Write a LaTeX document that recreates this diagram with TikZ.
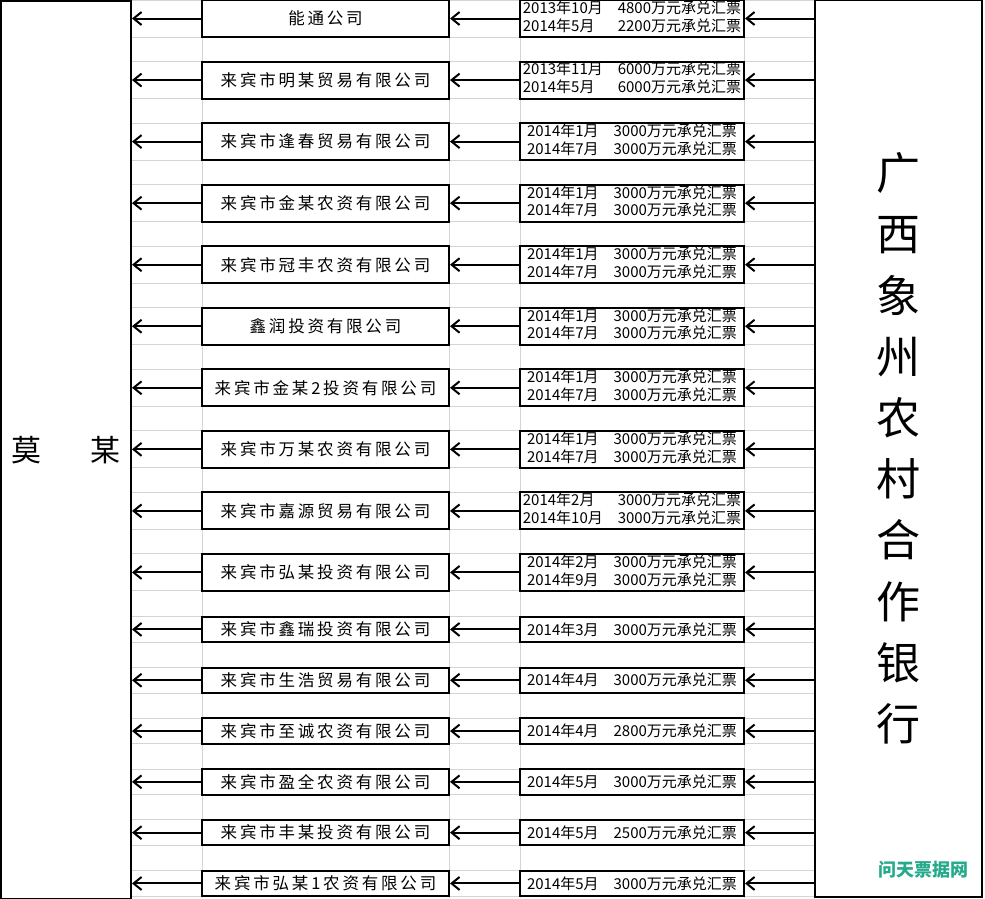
\documentclass[tikz,border=0pt]{standalone}
\usepackage{fontspec}
\newfontfamily\cjk{Noto Sans CJK SC}
\newfontfamily\cjkwide[LetterSpace=17]{Noto Sans CJK SC}
\usetikzlibrary{arrows.meta}
\definecolor{gridgray}{RGB}{212,212,212}
\definecolor{markteal}{RGB}{38,170,140}
\newcommand{\twobill}[4]{\begin{tabular}{@{}l@{\hspace{15pt}}l@{}}#1&#2\\#3&#4\end{tabular}}
\newcommand{\onebill}[2]{#1\hspace{15pt}#2}

\begin{document}
\begin{tikzpicture}[x=1pt,y=-1pt,
  box/.style={draw,fill=white,line width=2pt,inner sep=0pt},
  firm/.style={box,minimum width=247pt,font=\cjkwide\fontsize{16.5}{18}\selectfont},
  bill/.style={box,minimum width=224pt,font=\cjk\fontsize{15}{17}\selectfont},
  tall/.style={minimum height=37pt},
  low/.style={minimum height=25.5pt},
  flow/.style={line width=2pt,-{Straight Barb[length=8pt,width=13pt]}}]
  \useasboundingbox (0,0) rectangle (985,898);
  \fill[white] (0,0) rectangle (985,898);
  \foreach \x in {131,202,449,520,744,815}
    \draw[gridgray,line width=1pt] (\x,0) -- (\x,898);
  \foreach \i in {0,...,9} {
    \draw[gridgray,line width=1pt] (131,61.55*\i) -- (815,61.55*\i);
    \draw[gridgray,line width=1pt] (131,61.55*\i+37) -- (815,61.55*\i+37);
  }
  \foreach \i in {0,...,5} {
    \draw[gridgray,line width=1pt] (131,616.7+50.8*\i) -- (815,616.7+50.8*\i);
    \draw[gridgray,line width=1pt] (131,642.2+50.8*\i) -- (815,642.2+50.8*\i);
  }
  \node[box,minimum width=130pt,minimum height=898pt,font=\cjk\fontsize{30}{36}\selectfont]
    (mo) at (66,450) {莫\hspace{49pt}某};
  \node[box,minimum width=167pt,minimum height=897pt,align=center,
    font=\cjk\fontsize{44}{61.2}\selectfont]
    (bank) at (898.5,448.5) {广\\西\\象\\州\\农\\村\\合\\作\\银\\行};
  \node[firm,tall] (c1) at (325.5,18.5) {能通公司};
  \node[firm,tall] (c2) at (325.5,80.05) {来宾市明某贸易有限公司};
  \node[firm,tall] (c3) at (325.5,141.6) {来宾市逢春贸易有限公司};
  \node[firm,tall] (c4) at (325.5,203.15) {来宾市金某农资有限公司};
  \node[firm,tall] (c5) at (325.5,264.7) {来宾市冠丰农资有限公司};
  \node[firm,tall] (c6) at (325.5,326.25) {鑫润投资有限公司};
  \node[firm,tall] (c7) at (325.5,387.8) {来宾市金某2投资有限公司};
  \node[firm,tall] (c8) at (325.5,449.35) {来宾市万某农资有限公司};
  \node[firm,tall] (c9) at (325.5,510.9) {来宾市嘉源贸易有限公司};
  \node[firm,tall] (c10) at (325.5,572.45) {来宾市弘某投资有限公司};
  \node[firm,low] (c11) at (325.5,629.45) {来宾市鑫瑞投资有限公司};
  \node[firm,low] (c12) at (325.5,680.25) {来宾市生浩贸易有限公司};
  \node[firm,low] (c13) at (325.5,731.05) {来宾市至诚农资有限公司};
  \node[firm,low] (c14) at (325.5,781.85) {来宾市盈全农资有限公司};
  \node[firm,low] (c15) at (325.5,832.65) {来宾市丰某投资有限公司};
  \node[firm,low] (c16) at (325.5,883.45) {来宾市弘某1农资有限公司};
  \node[bill,tall] (m1) at (632,18.5) {\twobill{2013年10月}{4800万元承兑汇票}{2014年5月}{2200万元承兑汇票}};
  \node[bill,tall] (m2) at (632,80.05) {\twobill{2013年11月}{6000万元承兑汇票}{2014年5月}{6000万元承兑汇票}};
  \node[bill,tall] (m3) at (632,141.6) {\twobill{2014年1月}{3000万元承兑汇票}{2014年7月}{3000万元承兑汇票}};
  \node[bill,tall] (m4) at (632,203.15) {\twobill{2014年1月}{3000万元承兑汇票}{2014年7月}{3000万元承兑汇票}};
  \node[bill,tall] (m5) at (632,264.7) {\twobill{2014年1月}{3000万元承兑汇票}{2014年7月}{3000万元承兑汇票}};
  \node[bill,tall] (m6) at (632,326.25) {\twobill{2014年1月}{3000万元承兑汇票}{2014年7月}{3000万元承兑汇票}};
  \node[bill,tall] (m7) at (632,387.8) {\twobill{2014年1月}{3000万元承兑汇票}{2014年7月}{3000万元承兑汇票}};
  \node[bill,tall] (m8) at (632,449.35) {\twobill{2014年1月}{3000万元承兑汇票}{2014年7月}{3000万元承兑汇票}};
  \node[bill,tall] (m9) at (632,510.9) {\twobill{2014年2月}{3000万元承兑汇票}{2014年10月}{3000万元承兑汇票}};
  \node[bill,tall] (m10) at (632,572.45) {\twobill{2014年2月}{3000万元承兑汇票}{2014年9月}{3000万元承兑汇票}};
  \node[bill,low] (m11) at (632,629.45) {\onebill{2014年3月}{3000万元承兑汇票}};
  \node[bill,low] (m12) at (632,680.25) {\onebill{2014年4月}{3000万元承兑汇票}};
  \node[bill,low] (m13) at (632,731.05) {\onebill{2014年4月}{2800万元承兑汇票}};
  \node[bill,low] (m14) at (632,781.85) {\onebill{2014年5月}{3000万元承兑汇票}};
  \node[bill,low] (m15) at (632,832.65) {\onebill{2014年5月}{2500万元承兑汇票}};
  \node[bill,low] (m16) at (632,883.45) {\onebill{2014年5月}{3000万元承兑汇票}};
  \foreach \i in {1,...,16} {
    \draw[flow] (bank.west |- m\i) -- (m\i.east);
    \draw[flow] (m\i.west) -- (c\i.east);
    \draw[flow] (c\i.west) -- (mo.east |- c\i);
  }
  \node[font=\cjk\bfseries\fontsize{18}{20}\selectfont,text=markteal] (mark) at (923,870) {问天票据网};
\end{tikzpicture}
\end{document}
